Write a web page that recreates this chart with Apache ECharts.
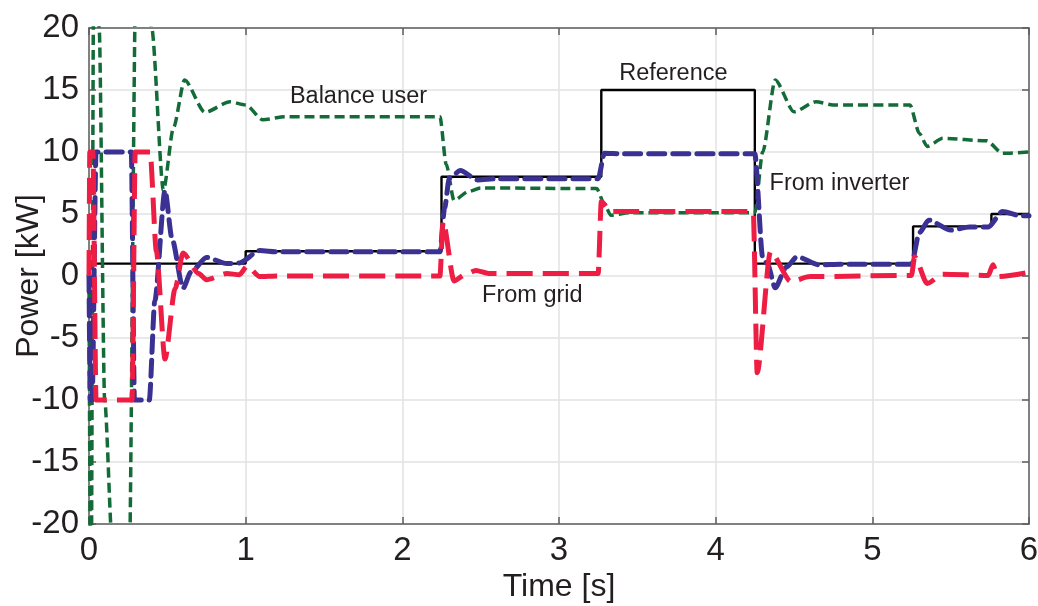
<!DOCTYPE html>
<html><head><meta charset="utf-8">
<script src="https://cdn.jsdelivr.net/npm/echarts@6/dist/echarts.min.js"></script>
<style>html,body{margin:0;padding:0;background:#fff}#c{width:1038px;height:606px}</style>
</head><body><div id="c"></div>
<script>
// ---- data (time [s], power [kW]) ----
const xTicks = [0, 1, 2, 3, 4, 5, 6];
const yTicks = [-20, -15, -10, -5, 0, 5, 10, 15, 20];

// Reference: value held from each time until the next one
const referencePts = [[0,1],[1.0,2],[2.25,8],[3.27,15],[4.25,1],[5.26,4],[5.76,5],[6,5]];

const inverterPts = [[0,0],[0.008,-10],[0.02,-10],[0.045,10],[0.27,10],[0.29,-10],[0.385,-10],[0.42,-2],[0.485,6.9],[0.53,3],[0.6,-1.0],[0.65,0.3],[0.75,1.5],[0.88,1.0],[0.96,1.05],[1.09,2.05],[1.2,1.95],[2.24,1.95],[2.27,5.5],[2.30,7.9],[2.37,8.5],[2.48,7.75],[2.6,7.85],[3.25,7.85],[3.29,9.9],[3.4,9.85],[4.25,9.85],[4.3,1.5],[4.33,1.0],[4.38,-0.95],[4.45,0.7],[4.52,1.55],[4.66,0.9],[4.8,0.95],[5.25,0.95],[5.3,3.5],[5.36,4.5],[5.5,3.7],[5.62,3.95],[5.74,3.95],[5.83,5.2],[5.95,4.85],[6,4.85]];

const gridPts = [[0,0],[0.005,10],[0.025,10],[0.045,-10],[0.275,-10],[0.295,10],[0.39,10],[0.43,2],[0.485,-6.7],[0.55,-1],[0.6,1.85],[0.7,0.2],[0.75,-0.3],[0.88,0.2],[0.96,0.1],[1.01,0.8],[1.09,-0.05],[1.2,0.0],[2.24,0.0],[2.26,4.4],[2.33,-0.4],[2.4,0.1],[2.47,0.45],[2.55,0.2],[3.25,0.2],[3.27,6.0],[3.33,5.2],[4.24,5.2],[4.265,-7.8],[4.35,1.95],[4.48,-0.45],[4.6,-0.05],[5.25,0.05],[5.27,1.55],[5.35,-0.6],[5.45,0.15],[5.74,0.05],[5.77,0.9],[5.8,-0.05],[6,0.3]];

const balancePts = [[0,0],[0.012,-30],[0.032,30],[0.05,28],[0.065,20],[0.1,-10],[0.15,-22],[0.2,-40],[0.255,-25],[0.3,25],[0.35,35],[0.4,20],[0.475,6.9],[0.54,12],[0.61,15.8],[0.74,13.2],[0.9,14.05],[1.0,13.8],[1.11,12.6],[1.25,12.85],[2.24,12.85],[2.28,9],[2.33,6.1],[2.42,6.8],[2.5,7.1],[3.24,7.05],[3.29,5.8],[3.33,4.9],[3.45,5.1],[4.25,5.1],[4.3,10],[4.38,15.8],[4.5,13.25],[4.64,14.05],[4.75,13.8],[5.24,13.8],[5.3,11.5],[5.35,10.45],[5.45,11.1],[5.73,10.9],[5.83,9.9],[6,10.0]];

const labelNames = ['Reference', 'Balance user', 'From inverter', 'From grid'];
const labelAt = [[3.73,16.3],[1.72,14.45],[4.79,7.45],[2.83,-1.6]];

// ---- chart ----
const FONT = 'Liberation Sans, Arial, sans-serif';
const TXT = '#231f20';
const FRAME = '#5e5e5e';
const chart = echarts.init(document.getElementById('c'), null, {renderer: 'canvas'});

const baseX = {type:'value', min:xTicks[0], max:xTicks[xTicks.length-1], interval:1};
const baseY = {type:'value', min:yTicks[0], max:yTicks[yTicks.length-1], interval:5};

chart.setOption({
  animation: false,
  backgroundColor: '#fff',
  grid: {left: 89, right: 9, top: 28, bottom: 82, containLabel: false, outerBoundsMode: 'none'},
  xAxis: [
    Object.assign({}, baseX, {
      position: 'bottom',
      name: 'Time [s]', nameLocation: 'middle', nameGap: 47, nameMoveOverlap: false,
      nameTextStyle: {fontFamily: FONT, fontSize: 32, color: TXT},
      axisLine: {show: true, onZero: false, lineStyle: {color: FRAME, width: 1.5}},
      axisTick: {show: true, inside: true, length: 7, lineStyle: {color: FRAME, width: 1.5}},
      axisLabel: {fontFamily: FONT, fontSize: 33, color: TXT, margin: 10},
      splitLine: {show: true, lineStyle: {color: '#e2e2e2', width: 1.5}}
    }),
    Object.assign({}, baseX, {
      position: 'top',
      axisLine: {show: true, onZero: false, lineStyle: {color: FRAME, width: 1.5}},
      axisTick: {show: true, inside: true, length: 7, lineStyle: {color: FRAME, width: 1.5}},
      axisLabel: {show: false}, splitLine: {show: false}
    })
  ],
  yAxis: [
    Object.assign({}, baseY, {
      position: 'left',
      name: 'Power [kW]', nameLocation: 'middle', nameGap: 44, nameMoveOverlap: false,
      nameTextStyle: {fontFamily: FONT, fontSize: 32, color: TXT},
      axisLine: {show: true, onZero: false, lineStyle: {color: FRAME, width: 1.5}},
      axisTick: {show: true, inside: true, length: 7, lineStyle: {color: FRAME, width: 1.5}},
      axisLabel: {fontFamily: FONT, fontSize: 33, color: TXT, margin: 10},
      splitLine: {show: true, lineStyle: {color: '#e2e2e2', width: 1.5}}
    }),
    Object.assign({}, baseY, {
      position: 'right',
      axisLine: {show: true, onZero: false, lineStyle: {color: FRAME, width: 1.5}},
      axisTick: {show: true, inside: true, length: 7, lineStyle: {color: FRAME, width: 1.5}},
      axisLabel: {show: false}, splitLine: {show: false}
    })
  ],
  series: [
    {
      name: 'Reference', type: 'line', step: 'end', data: referencePts,
      showSymbol: false, clip: true, z: 2,
      lineStyle: {color: '#000', width: 2.4}
    },
    {
      name: 'Balance user', type: 'line', data: balancePts, smooth: 0.25, smoothMonotone: 'x',
      showSymbol: false, clip: true, z: 3,
      lineStyle: {color: '#136b38', width: 3.5, type: [10, 5]}
    },
    {
      name: 'From inverter', type: 'line', data: inverterPts, smooth: 0.25, smoothMonotone: 'x',
      showSymbol: false, clip: true, z: 4,
      lineStyle: {color: '#3a3193', width: 5, type: [16, 8], cap: 'round'}
    },
    {
      name: 'From grid', type: 'line', data: gridPts, smooth: 0.25, smoothMonotone: 'x',
      showSymbol: false, clip: true, z: 5,
      lineStyle: {color: '#ee1d43', width: 5, type: [26, 10]}
    }
  ]
});

// annotation texts placed at data coordinates
chart.setOption({
  graphic: labelNames.map((n, i) => {
    const p = chart.convertToPixel({xAxisIndex: 0, yAxisIndex: 0}, labelAt[i]);
    return {type: 'text', x: p[0], y: p[1], z: 100,
      style: {text: n, fontFamily: FONT, fontSize: 23.5, fill: TXT, align: 'center', verticalAlign: 'middle'}};
  })
});
</script></body></html>
